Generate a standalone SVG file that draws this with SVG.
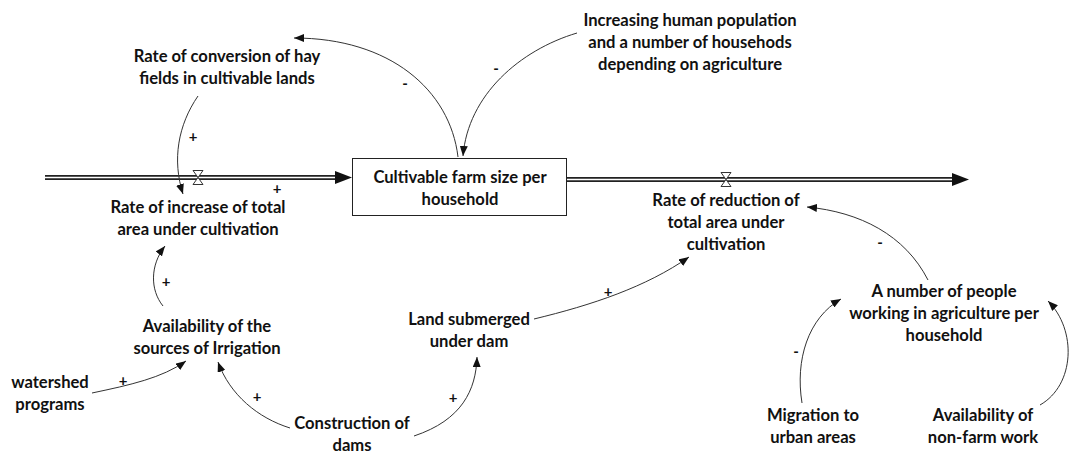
<svg xmlns="http://www.w3.org/2000/svg" width="1076" height="454" viewBox="0 0 1076 454">
<defs>
<style>
text{font-family:Lato,"Liberation Sans",sans-serif;font-weight:bold;font-size:16.6px;fill:#111;text-anchor:middle}
.pol{font-size:15px}
.link{fill:none;stroke:#333;stroke-width:1}
.pipeo{fill:none;stroke:#222;stroke-width:5}
.pipei{fill:none;stroke:#fff;stroke-width:1.6}
.valve{fill:#fff;stroke:#333;stroke-width:1}
</style>
<marker id="ah" viewBox="0 0 10 8" refX="10" refY="4" markerWidth="10" markerHeight="8" markerUnits="userSpaceOnUse" orient="auto">
<path d="M0,0 L10,4 L0,8 Z" fill="#111"/>
</marker>
</defs>
<rect width="1076" height="454" fill="#fff"/>
<g id="flows">
<path class="pipeo" d="M45,177.5 H338"/>
<path class="pipei" d="M45,177.5 H340"/>
<path d="M335,171 L352,177.5 L335,184 Z" fill="#111"/>
<path class="pipeo" d="M567,179.5 H955"/>
<path class="pipei" d="M567,179.5 H957"/>
<path d="M952,173 L969,179.5 L952,186 Z" fill="#111"/>
<path class="valve" d="M193,170.5 L203,170.5 L193,184.5 L203,184.5 Z"/>
<path class="valve" d="M721,172.5 L731,172.5 L721,186.5 L731,186.5 Z"/>
</g>
<g id="connectors">
<path class="link" marker-end="url(#ah)" d="M198,96 C178,125 172,160 183,194"/>
<path class="link" marker-end="url(#ah)" d="M458,157 C450,90 390,38 294,38"/>
<path class="link" marker-end="url(#ah)" d="M577,33 C520,50 468,95 463,156"/>
<path class="link" marker-end="url(#ah)" d="M928,280 C905,235 860,212 807,207"/>
<path class="link" marker-end="url(#ah)" d="M534,319 C592,305 646,287 689,257"/>
<path class="link" marker-end="url(#ah)" d="M163,306 C150,290 150,265 165,246"/>
<path class="link" marker-end="url(#ah)" d="M92,393 C130,385 162,378 186,361"/>
<path class="link" marker-end="url(#ah)" d="M290,428 C258,418 230,395 218,362"/>
<path class="link" marker-end="url(#ah)" d="M414,436 C462,420 476,390 477,357"/>
<path class="link" marker-end="url(#ah)" d="M802,403 C795,360 808,318 841,299"/>
<path class="link" marker-end="url(#ah)" d="M1040,405 C1075,385 1077,330 1048,301"/>
<text class="pol" x="193" y="142">+</text>
<text class="pol" x="277" y="194">+</text>
<text class="pol" x="405" y="89">-</text>
<text class="pol" x="496" y="74">-</text>
<text class="pol" x="880" y="248">-</text>
<text class="pol" x="608" y="297">+</text>
<text class="pol" x="166" y="287">+</text>
<text class="pol" x="123" y="386">+</text>
<text class="pol" x="257" y="402">+</text>
<text class="pol" x="453" y="403">+</text>
<text class="pol" x="796" y="357">-</text>
</g>
<g id="stock">
<rect x="352.5" y="158.5" width="214" height="57" fill="#fff" stroke="#222" stroke-width="1"/>
<text x="460" y="183">Cultivable farm size per</text>
<text x="460" y="205">household</text>
</g>
<g id="conversion">
<text x="227" y="62">Rate of conversion of hay</text>
<text x="227" y="84">fields in cultivable lands</text>
</g>
<g id="population">
<text x="690" y="26">Increasing human population</text>
<text x="690" y="48">and a number of househods</text>
<text x="690" y="70">depending on agriculture</text>
</g>
<g id="increase">
<text x="198" y="213">Rate of increase of total</text>
<text x="198" y="235">area under cultivation</text>
</g>
<g id="reduction">
<text x="726" y="206">Rate of reduction of</text>
<text x="726" y="228">total area under</text>
<text x="726" y="250">cultivation</text>
</g>
<g id="people">
<text x="944" y="297">A number of people</text>
<text x="944" y="319">working in agriculture per</text>
<text x="944" y="341">household</text>
</g>
<g id="irrigation">
<text x="207" y="332">Availability of the</text>
<text x="207" y="354">sources of Irrigation</text>
</g>
<g id="submerged">
<text x="469" y="325">Land submerged</text>
<text x="469" y="347">under dam</text>
</g>
<g id="watershed">
<text x="50" y="388">watershed</text>
<text x="50" y="410">programs</text>
</g>
<g id="dams">
<text x="352" y="429">Construction of</text>
<text x="352" y="451">dams</text>
</g>
<g id="migration">
<text x="813" y="421">Migration to</text>
<text x="813" y="443">urban areas</text>
</g>
<g id="nonfarm">
<text x="983" y="421">Availability of</text>
<text x="983" y="443">non-farm work</text>
</g>
</svg>
